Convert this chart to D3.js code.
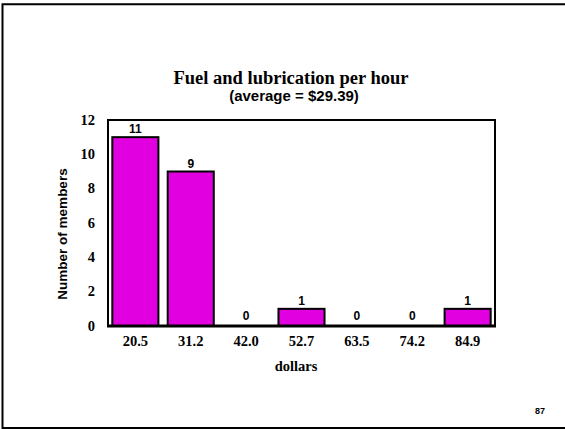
<!DOCTYPE html>
<html>
<head>
<meta charset="utf-8">
<script src="https://cdn.jsdelivr.net/npm/d3@7"></script>
<style>
  html, body { margin: 0; padding: 0; background: #fff; }
  svg { display: block; }
</style>
</head>
<body>
<svg id="chart" width="565" height="429"></svg>
<script>
const categories = ["20.5", "31.2", "42.0", "52.7", "63.5", "74.2", "84.9"];
const counts = [11, 9, 0, 1, 0, 0, 1];
const yTicks = [0, 2, 4, 6, 8, 10, 12];
const titleText = "Fuel and lubrication per hour";
const subtitleText = "(average = $29.39)";
const xTitle = "dollars";
const yTitle = "Number of members";
const pageNumber = "87";

const svg = d3.select("#chart");
const plot = { left: 108, right: 495, top: 120, bottom: 326 };

// outer frame (right side runs off the page)
svg.append("path")
  .attr("d", `M600,4.3 H2.5 V428 H600`)
  .attr("fill", "none").attr("stroke", "#000").attr("stroke-width", 2);

const x = d3.scaleBand().domain(categories).range([plot.left, plot.right]).paddingInner(0.168).paddingOuter(0.078);
const y = d3.scaleLinear().domain([0, 12]).range([plot.bottom, plot.top]);

// plot box
svg.append("rect")
  .attr("x", plot.left).attr("y", plot.top)
  .attr("width", plot.right - plot.left).attr("height", plot.bottom - plot.top)
  .attr("fill", "none").attr("stroke", "#000").attr("stroke-width", 2);

// bars
svg.append("g").selectAll("rect").data(categories).join("rect")
  .attr("x", d => x(d)).attr("width", x.bandwidth())
  .attr("y", (d, i) => y(counts[i]))
  .attr("height", (d, i) => y(0) - y(counts[i]))
  .attr("fill", "#e000e0").attr("stroke", "#000").attr("stroke-width", 2);

// baseline (thicker)
svg.append("line")
  .attr("x1", plot.left - 1).attr("x2", plot.right + 1)
  .attr("y1", y(0)).attr("y2", y(0))
  .attr("stroke", "#000").attr("stroke-width", 3);

// value labels
svg.append("g").selectAll("text").data(categories).join("text")
  .attr("x", d => x(d) + x.bandwidth() / 2)
  .attr("y", (d, i) => y(counts[i]) - (counts[i] === 0 ? 6 : 4))
  .attr("text-anchor", "middle")
  .attr("font-family", "Liberation Sans, Arial, sans-serif")
  .attr("font-weight", "bold").attr("font-size", 12)
  .text((d, i) => counts[i]);

// y axis
const yAxis = d3.axisLeft(y).tickValues(yTicks).tickSize(0).tickPadding(13);
const gy = svg.append("g").attr("transform", `translate(${plot.left},0)`).call(yAxis);
gy.select(".domain").remove();
gy.selectAll("text")
  .attr("font-family", "Liberation Serif, Times New Roman, serif")
  .attr("font-weight", "bold").attr("font-size", 14.5).attr("fill", "#000")
  .attr("dy", "0.28em");

// x axis
const xAxis = d3.axisBottom(x).tickSize(0).tickPadding(10);
const gx = svg.append("g").attr("transform", `translate(0,${plot.bottom})`).call(xAxis);
gx.select(".domain").remove();
gx.selectAll("text")
  .attr("font-family", "Liberation Serif, Times New Roman, serif")
  .attr("font-weight", "bold").attr("font-size", 14.5).attr("fill", "#000");

// titles
svg.append("text").attr("x", 291).attr("y", 83.5).attr("text-anchor", "middle")
  .attr("font-family", "Liberation Serif, Times New Roman, serif")
  .attr("font-weight", "bold").attr("font-size", 18.5).text(titleText);
svg.append("text").attr("x", 294).attr("y", 100.5).attr("text-anchor", "middle")
  .attr("font-family", "Liberation Sans, Arial, sans-serif")
  .attr("font-weight", "bold").attr("font-size", 15).text(subtitleText);

svg.append("text").attr("x", 296).attr("y", 371).attr("text-anchor", "middle")
  .attr("font-family", "Liberation Serif, Times New Roman, serif")
  .attr("font-weight", "bold").attr("font-size", 14.5).text(xTitle);

svg.append("text")
  .attr("transform", `translate(67,234) rotate(-90)`)
  .attr("text-anchor", "middle")
  .attr("font-family", "Liberation Sans, Arial, sans-serif")
  .attr("font-weight", "bold").attr("font-size", 13.5).text(yTitle);

svg.append("text").attr("x", 540).attr("y", 414).attr("text-anchor", "middle")
  .attr("font-family", "Liberation Sans, Arial, sans-serif")
  .attr("font-weight", "bold").attr("font-size", 9).text(pageNumber);
</script>
</body>
</html>
